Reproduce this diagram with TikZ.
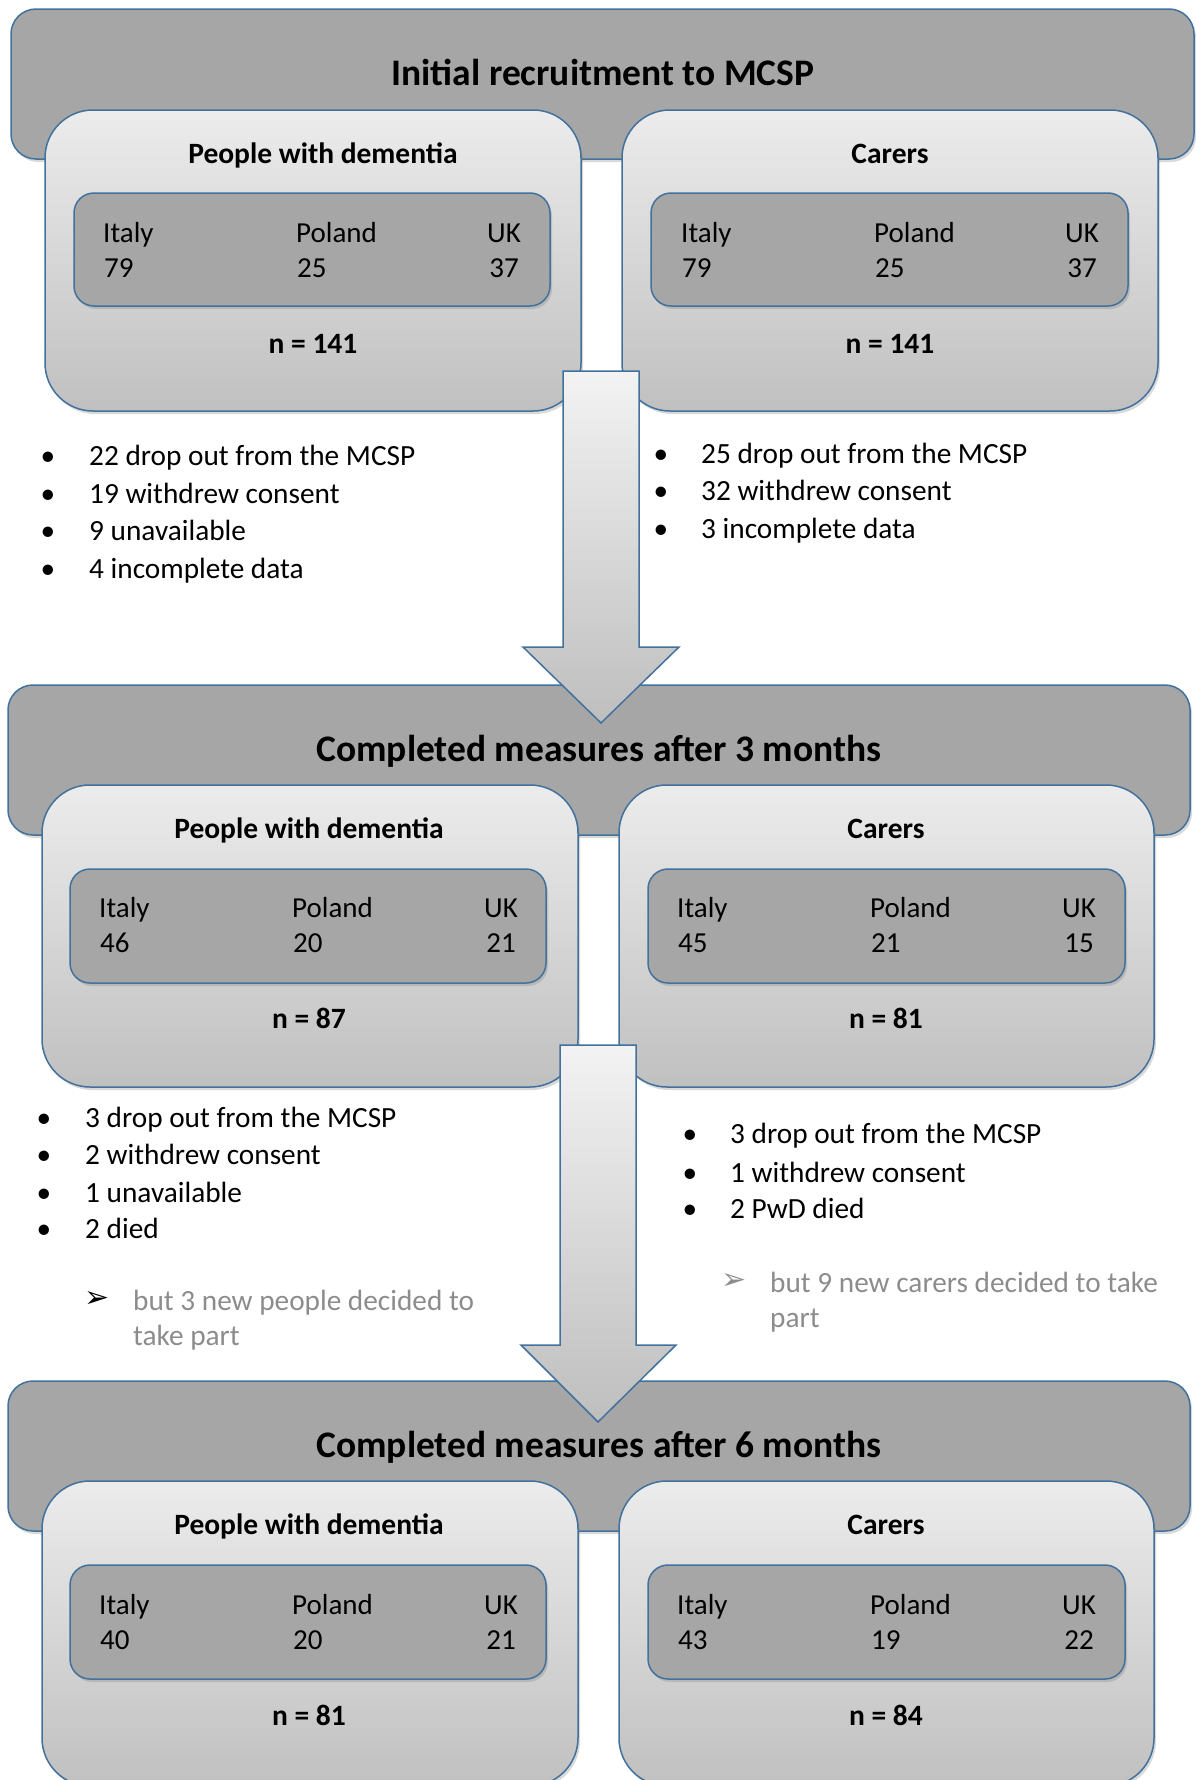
\documentclass[tikz,border=0pt]{standalone}
\usepackage{fontspec}
\setmainfont{Carlito}
\newfontfamily\dingfont{DejaVu Sans}
\usetikzlibrary{shadows}

\definecolor{boxblue}{RGB}{65,113,156}
\definecolor{outerfill}{RGB}{166,166,166}
\definecolor{boxtop}{RGB}{236,236,236}
\definecolor{boxbottom}{RGB}{192,192,192}
\definecolor{arrowtop}{RGB}{243,243,243}
\definecolor{arrowbottom}{RGB}{190,190,190}
\definecolor{notegray}{RGB}{140,140,140}

\begin{document}
\begin{tikzpicture}[x=1pt,y=1pt,yscale=-1,
  boxshadow/.style={drop shadow={shadow xshift=2pt,shadow yshift=-3pt,opacity=0.3}},
  stagebox/.style={draw=boxblue,line width=1.5pt,fill=outerfill,rounded corners=25pt,boxshadow},
  groupbox/.style={draw=boxblue,line width=1.5pt,top color=boxtop,bottom color=boxbottom,rounded corners=48pt,boxshadow},
  countrybox/.style={draw=boxblue,line width=1.5pt,fill=outerfill,rounded corners=20pt,boxshadow},
  downarrow/.style={draw=boxblue,line width=1.5pt,top color=arrowtop,bottom color=arrowbottom},
  titletext/.style={font=\fontsize{37.5}{42}\selectfont\bfseries,anchor=base,inner sep=0pt},
  headtext/.style={font=\fontsize{29.5}{34}\selectfont\bfseries,anchor=base,inner sep=0pt},
  celltext/.style={font=\fontsize{29}{34}\selectfont,anchor=base west,inner sep=0pt},
  cellright/.style={celltext,anchor=base east},
  bullettext/.style={font=\fontsize{29.3}{34}\selectfont,anchor=base west,inner sep=0pt},
  bulletdot/.style={font=\fontsize{29.3}{34}\selectfont,anchor=base,inner sep=0pt},
  notetext/.style={bullettext,text=notegray},
  notemark/.style={font=\dingfont\fontsize{30}{34}\selectfont,anchor=base,inner sep=0pt}
]
\useasboundingbox (0,0) rectangle (1195,1780);

%Rounded Rect: initial recruitment
\draw [stagebox] (11,9) rectangle (1194,159) ;
%Text Node
\node [titletext] (title1) at (603,85) {Initial recruitment to MCSP};
%Rounded Rect
\draw [groupbox] (45,110) rectangle (581,411) ;
\draw [groupbox] (622,110) rectangle (1158,411) ;
%Rounded Rect
\draw [countrybox] (74,193) rectangle (550,306) ;
\draw [countrybox] (651,193) rectangle (1128,306) ;
%Text Node
\node [headtext] (pwdhead1) at (323,163) {People with dementia};
\node [headtext] (carhead1) at (890,163) {Carers};
\node [celltext] (pwditaly1) at (103,242) {Italy};
\node [celltext] (pwditalyn1) at (104,277) {79};
\node [celltext] (pwdpoland1) at (296,242) {Poland};
\node [celltext] (pwdpolandn1) at (297,277) {25};
\node [cellright] (pwduk1) at (521,242) {UK};
\node [cellright] (pwdukn1) at (519,277) {37};
\node [headtext] (pwdn1) at (313,353) {n = 141};
\node [celltext] (caritaly1) at (681,242) {Italy};
\node [celltext] (caritalyn1) at (682,277) {79};
\node [celltext] (carpoland1) at (874,242) {Poland};
\node [celltext] (carpolandn1) at (875,277) {25};
\node [cellright] (caruk1) at (1099,242) {UK};
\node [cellright] (carukn1) at (1097,277) {37};
\node [headtext] (carn1) at (890,353) {n = 141};

%Bullets after recruitment
\node [bulletdot] (ldot1a) at (48,465) {•};
\node [bullettext] (lout1a) at (89,465) {22 drop out from the MCSP};
\node [bulletdot] (ldot1b) at (48,503) {•};
\node [bullettext] (lout1b) at (89,503) {19 withdrew consent};
\node [bulletdot] (ldot1c) at (48,540) {•};
\node [bullettext] (lout1c) at (89,540) {9 unavailable};
\node [bulletdot] (ldot1d) at (48,578) {•};
\node [bullettext] (lout1d) at (89,578) {4 incomplete data};
\node [bulletdot] (rdot1a) at (661,463) {•};
\node [bullettext] (rout1a) at (701,463) {25 drop out from the MCSP};
\node [bulletdot] (rdot1b) at (661,500) {•};
\node [bullettext] (rout1b) at (701,500) {32 withdrew consent};
\node [bulletdot] (rdot1c) at (661,538) {•};
\node [bullettext] (rout1c) at (701,538) {3 incomplete data};

%Rounded Rect: after 3 months
\draw [stagebox] (8,685) rectangle (1190,835) ;
%Text Node
\node [titletext] (title2) at (599,761) {Completed measures after 3 months};
%Rounded Rect
\draw [groupbox] (42,785) rectangle (578,1087) ;
\draw [groupbox] (619,785) rectangle (1154,1087) ;
%Rounded Rect
\draw [countrybox] (70,869) rectangle (546,983) ;
\draw [countrybox] (648,869) rectangle (1125,983) ;
%Text Node
\node [headtext] (pwdhead2) at (309,838) {People with dementia};
\node [headtext] (carhead2) at (886,838) {Carers};
\node [celltext] (pwditaly2) at (99,917) {Italy};
\node [celltext] (pwditalyn2) at (100,952) {46};
\node [celltext] (pwdpoland2) at (292,917) {Poland};
\node [celltext] (pwdpolandn2) at (293,952) {20};
\node [cellright] (pwduk2) at (518,917) {UK};
\node [cellright] (pwdukn2) at (516,952) {21};
\node [headtext] (pwdn2) at (309,1028) {n = 87};
\node [celltext] (caritaly2) at (677,917) {Italy};
\node [celltext] (caritalyn2) at (678,952) {45};
\node [celltext] (carpoland2) at (870,917) {Poland};
\node [celltext] (carpolandn2) at (871,952) {21};
\node [cellright] (caruk2) at (1096,917) {UK};
\node [cellright] (carukn2) at (1094,952) {15};
\node [headtext] (carn2) at (886,1028) {n = 81};

%Bullets after 3 months
\node [bulletdot] (ldot2a) at (44,1127) {•};
\node [bullettext] (lout2a) at (85,1127) {3 drop out from the MCSP};
\node [bulletdot] (ldot2b) at (44,1164) {•};
\node [bullettext] (lout2b) at (85,1164) {2 withdrew consent};
\node [bulletdot] (ldot2c) at (44,1202) {•};
\node [bullettext] (lout2c) at (85,1202) {1 unavailable};
\node [bulletdot] (ldot2d) at (44,1238) {•};
\node [bullettext] (lout2d) at (85,1238) {2 died};
\node [notemark] (lmark2) at (97,1307) {➢};
\node [notetext] (lnew2a) at (133,1310) {but 3 new people decided to};
\node [notetext] (lnew2b) at (133,1345) {take part};
\node [bulletdot] (rdot2a) at (690,1143) {•};
\node [bullettext] (rout2a) at (730,1143) {3 drop out from the MCSP};
\node [bulletdot] (rdot2b) at (690,1182) {•};
\node [bullettext] (rout2b) at (730,1182) {1 withdrew consent};
\node [bulletdot] (rdot2c) at (690,1218) {•};
\node [bullettext] (rout2c) at (730,1218) {2 PwD died};
\node [notemark,text=notegray] (rmark2) at (734,1289) {➢};
\node [notetext] (rnew2a) at (770,1292) {but 9 new carers decided to take};
\node [notetext] (rnew2b) at (770,1327) {part};

%Rounded Rect: after 6 months
\draw [stagebox] (8,1381) rectangle (1190,1531) ;
%Text Node
\node [titletext] (title3) at (599,1457) {Completed measures after 6 months};
%Rounded Rect
\draw [groupbox] (42,1481) rectangle (578,1786) ;
\draw [groupbox] (619,1481) rectangle (1154,1786) ;
%Rounded Rect
\draw [countrybox] (70,1565) rectangle (546,1679) ;
\draw [countrybox] (648,1565) rectangle (1125,1679) ;
%Text Node
\node [headtext] (pwdhead3) at (309,1534) {People with dementia};
\node [headtext] (carhead3) at (886,1534) {Carers};
\node [celltext] (pwditaly3) at (99,1614) {Italy};
\node [celltext] (pwditalyn3) at (100,1649) {40};
\node [celltext] (pwdpoland3) at (292,1614) {Poland};
\node [celltext] (pwdpolandn3) at (293,1649) {20};
\node [cellright] (pwduk3) at (518,1614) {UK};
\node [cellright] (pwdukn3) at (516,1649) {21};
\node [headtext] (pwdn3) at (309,1725) {n = 81};
\node [celltext] (caritaly3) at (677,1614) {Italy};
\node [celltext] (caritalyn3) at (678,1649) {43};
\node [celltext] (carpoland3) at (870,1614) {Poland};
\node [celltext] (carpolandn3) at (871,1649) {19};
\node [cellright] (caruk3) at (1096,1614) {UK};
\node [cellright] (carukn3) at (1094,1649) {22};
\node [headtext] (carn3) at (886,1725) {n = 84};

%Shape: Down Arrow
\draw [downarrow] (563,371) -- (563,647) -- (523,647) -- (601,723) -- (679,647) -- (639,647) -- (639,371) -- cycle ;
%Shape: Down Arrow
\draw [downarrow] (560,1045) -- (560,1345) -- (521,1345) -- (598,1422) -- (676,1345) -- (636,1345) -- (636,1045) -- cycle ;

\end{tikzpicture}
\end{document}
